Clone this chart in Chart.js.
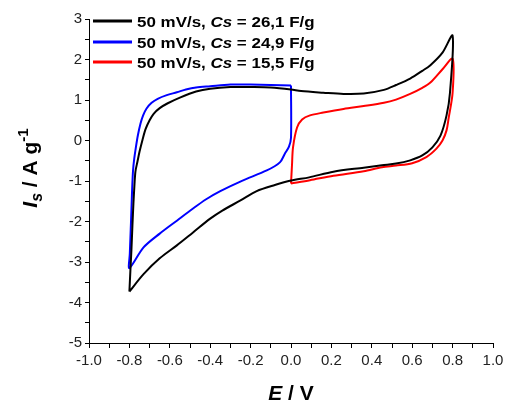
<!DOCTYPE html>
<html>
<head>
<meta charset="utf-8">
<script src="https://cdn.jsdelivr.net/npm/chart.js@4.4.1/dist/chart.umd.min.js"></script>
<style>
  html, body { margin: 0; padding: 0; background: #fff; }
  #wrap { width: 508px; height: 405px; }
</style>
</head>
<body>
<div id="wrap"><canvas id="cvChart"></canvas></div>
<script>
// ---- data ----
const legendLabels = ["26,1 F/g", "24,9 F/g", "15,5 F/g"];
const lineColors = ["#000000", "#0000ff", "#ff0000"];

// 26,1 F/g loop (black)
const blackE = [-0.80, -0.795, -0.79, -0.785, -0.78, -0.775, -0.77, -0.76, -0.75, -0.735, -0.72, -0.70, -0.68, -0.65, -0.61, -0.55, -0.47, -0.40, -0.30, -0.20, -0.10, 0.00, 0.05, 0.16, 0.26, 0.36, 0.46, 0.52, 0.59, 0.65, 0.69, 0.75, 0.80,
  0.787, 0.77, 0.74, 0.70, 0.65, 0.59, 0.52, 0.45, 0.36, 0.21, 0.09, 0.00, -0.08, -0.17, -0.25, -0.34, -0.40, -0.485, -0.565, -0.65, -0.73, -0.80];
const blackI = [-3.73, -3.20, -2.70, -2.10, -1.55, -1.10, -0.76, -0.52, -0.28, 0.02, 0.28, 0.50, 0.66, 0.80, 0.92, 1.06, 1.21, 1.28, 1.32, 1.32, 1.31, 1.26, 1.22, 1.18, 1.15, 1.16, 1.25, 1.37, 1.53, 1.72, 1.86, 2.17, 2.59,
  1.18, 0.62, 0.12, -0.17, -0.37, -0.49, -0.57, -0.61, -0.67, -0.77, -0.91, -0.99, -1.10, -1.25, -1.48, -1.73, -1.93, -2.27, -2.59, -2.91, -3.30, -3.73];

// 24,9 F/g loop (blue)
const blueE = [0.00, 0.00, -0.01, -0.03, -0.055, -0.12, -0.24, -0.35, -0.42, -0.485, -0.565, -0.65, -0.73, -0.80,
  -0.798, -0.795, -0.792, -0.789, -0.786, -0.782, -0.776, -0.768, -0.758, -0.745, -0.732, -0.715, -0.69, -0.66, -0.615, -0.565, -0.52, -0.47, -0.40, -0.30, -0.20, -0.10, 0.00];
const blueI = [1.36, 0.07, -0.15, -0.32, -0.54, -0.74, -0.99, -1.25, -1.45, -1.68, -1.98, -2.30, -2.64, -3.15,
  -2.80, -2.40, -2.00, -1.57, -1.15, -0.74, -0.45, -0.17, 0.13, 0.42, 0.62, 0.79, 0.93, 1.03, 1.12, 1.19, 1.26, 1.31, 1.34, 1.38, 1.38, 1.37, 1.36];

// 15,5 F/g loop (red)
const redE = [0.00, 0.005, 0.01, 0.03, 0.055, 0.094, 0.16, 0.26, 0.36, 0.46, 0.52, 0.59, 0.65, 0.69, 0.75, 0.80,
  0.80, 0.78, 0.77, 0.75, 0.72, 0.67, 0.60, 0.52, 0.45, 0.36, 0.21, 0.094, 0.00];
const redI = [-1.06, -0.60, -0.17, 0.32, 0.52, 0.62, 0.69, 0.78, 0.85, 0.93, 1.01, 1.15, 1.30, 1.43, 1.76, 2.02,
  1.18, 0.54, 0.25, 0.00, -0.20, -0.41, -0.56, -0.62, -0.66, -0.76, -0.87, -0.98, -1.06];

const xMin = -1.0, xMax = 1.0;
const yMin = -5, yMax = 3;

function toPoints(es, is) {
    return es.map((e, k) => ({ x: e, y: is[k] }));
}

const series = [toPoints(blackE, blackI), toPoints(blueE, blueI), toPoints(redE, redI)];

// draws a run of text pieces (mixed italic / sub / sup) starting at x, stretched by sx
function drawRun(c, parts, x, y, sx) {
    parts.forEach(p => {
        c.font = p.f;
        c.save();
        c.translate(x, y + (p.dy || 0));
        c.scale(sx, 1);
        c.fillText(p.t, 0, 0);
        c.restore();
        x += c.measureText(p.t).width * sx;
    });
}

function runWidth(c, parts, sx) {
    let w = 0;
    parts.forEach(p => { c.font = p.f; w += c.measureText(p.t).width * sx; });
    return w;
}

// ---- titles and legend drawn on the canvas ----
const textPlugin = {
    id: "cvText",
    afterDraw(chart) {
        const c = chart.ctx;
        const area = chart.chartArea;
        c.save();
        c.fillStyle = "#000";
        c.textBaseline = "alphabetic";

        // x title: E / V
        const partsX = [
            { t: "E", f: "italic bold 21px 'Liberation Sans'" },
            { t: " / V", f: "bold 21px 'Liberation Sans'" }
        ];
        let w = runWidth(c, partsX, 1);
        drawRun(c, partsX, (area.left + area.right) / 2 - w / 2, 400, 1);

        // y title: I_s / A g^-1
        const partsY = [
            { t: "I", f: "italic bold 21px 'Liberation Sans'" },
            { t: "s", f: "italic bold 16px 'Liberation Sans'", dy: 5 },
            { t: " / A g", f: "bold 21px 'Liberation Sans'" },
            { t: "-1", f: "bold 15px 'Liberation Sans'", dy: -9 }
        ];
        w = runWidth(c, partsY, 1);
        c.save();
        c.translate(37, 168);
        c.rotate(-Math.PI / 2);
        drawRun(c, partsY, -w / 2, 0, 1);
        c.restore();

        // legend
        const rows = [21, 42, 62];
        legendLabels.forEach((lab, k) => {
            const y = rows[k];
            c.strokeStyle = lineColors[k];
            c.lineWidth = 3;
            c.beginPath();
            c.moveTo(93, y);
            c.lineTo(132, y);
            c.stroke();
            const parts = [
                { t: "50 mV/s, ", f: "bold 15px 'Liberation Sans'" },
                { t: "Cs", f: "italic bold 15px 'Liberation Sans'" },
                { t: " = " + lab, f: "bold 15px 'Liberation Sans'" }
            ];
            drawRun(c, parts, 137, y + 5.5, 1.13);
        });
        c.restore();
    }
};

const ctx = document.getElementById("cvChart").getContext("2d");

const chart = new Chart(ctx, {
    type: "scatter",
    data: {
        datasets: series.map((pts, k) => ({
            label: legendLabels[k],
            data: pts,
            showLine: true,
            borderColor: lineColors[k],
            backgroundColor: lineColors[k],
            borderWidth: 2,
            pointRadius: 0,
            tension: 0.3
        }))
    },
    options: {
        responsive: true,
        maintainAspectRatio: false,
        animation: false,
        layout: { padding: { left: 0, right: 15, top: 19, bottom: 0 } },
        plugins: {
            legend: { display: false },
            tooltip: { enabled: false }
        },
        scales: {
            x: {
                type: "linear",
                min: xMin,
                max: xMax,
                afterFit(scale) { scale.height = 62; },
                ticks: {
                    stepSize: 0.1,
                    autoSkip: false,
                    maxRotation: 0,
                    padding: 4,
                    color: "#222",
                    font: { family: "Liberation Sans", size: 15 },
                    callback: v => (Math.round(v * 10) % 2 === 0 ? v.toFixed(1) : "")
                },
                grid: {
                    drawOnChartArea: false,
                    drawTicks: true,
                    tickLength: 5,
                    color: "#000"
                },
                border: { display: true, color: "#000", width: 1 }
            },
            y: {
                type: "linear",
                min: yMin,
                max: yMax,
                afterFit(scale) { scale.width = 89; },
                ticks: {
                    stepSize: 0.5,
                    autoSkip: false,
                    padding: 3,
                    color: "#222",
                    font: { family: "Liberation Sans", size: 15 },
                    callback: v => (Number.isInteger(v) ? String(v) : "")
                },
                grid: {
                    drawOnChartArea: false,
                    drawTicks: true,
                    tickLength: 4,
                    color: "#000"
                },
                border: { display: true, color: "#000", width: 1 }
            }
        }
    },
    plugins: [textPlugin]
});
</script>
</body>
</html>
